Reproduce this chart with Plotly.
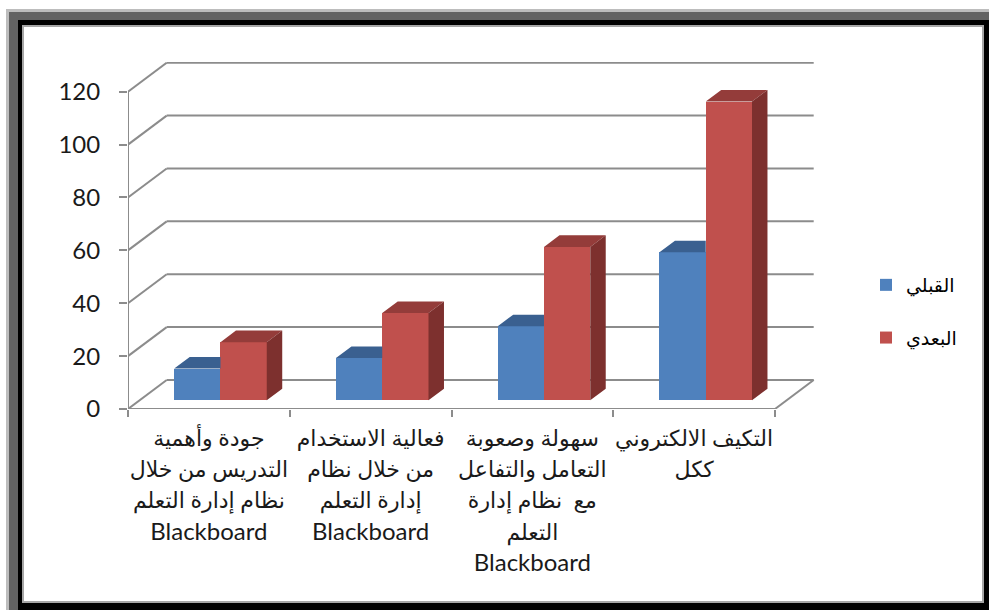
import plotly.graph_objects as go

# ---------------- data ----------------
categories = [
    "جودة وأهمية<br>التدريس من خلال<br>نظام إدارة التعلم<br>Blackboard",
    "فعالية الاستخدام<br>من خلال نظام<br>إدارة التعلم<br>Blackboard",
    "سهولة وصعوبة<br>التعامل والتفاعل<br>مع  نظام إدارة<br>التعلم<br>Blackboard",
    "التكيف الالكتروني<br>ككل",
]
before_vals = [12, 16, 28, 56]
after_vals = [22, 33, 58, 113]
series_names = ["القبلي", "البعدي"]
y_ticks = [0, 20, 40, 60, 80, 100, 120]

# ---------------- layout geometry (styling) ----------------
W, H = 989, 610
ML, MR, MT, MB = 128, 172, 62, 201
PW, PH = W - ML - MR, H - MT - MB
PX_PER_CAT = 161.75
PX_PER_VAL = 2.644
XMAX = PW / PX_PER_CAT
YMAX = PH / PX_PER_VAL

# oblique depth vector (data units)
DX, DY = 38.7 / PX_PER_CAT, 29.0 / PX_PER_VAL
Z0, Z1 = 0.30, 0.70
BAR_W = 0.286

front_col = ["#4F81BD", "#C0504D"]
top_col = ["#3A6090", "#943C3A"]
side_col = ["#2F4D75", "#7D302E"]
grid_col = "#8C8C8C"


def style_label(label, arabic_size=22):
    """Arabic lines rendered slightly smaller than the Latin ones."""
    out = []
    for line in label.split("<br>"):
        if line.isascii():
            out.append(line)
        else:
            out.append(f'<span style="font-size:{arabic_size}px">{line}</span>')
    return "<br>".join(out)


fig = go.Figure()

# ---------------- frame (paper shapes) ----------------
def px_x(p):
    return (p - ML) / PW

def px_y(p):
    return (H - MB - p) / PH

shapes = []
for (x0, y0, x1, y1, col) in [
    (6, 9, 1000, 620, "#BDBDBD"),
    (9, 12, 1000, 620, "#636363"),
    (18, 20, 989, 610, "#000000"),
    (22, 25, 984, 603, "#A6A6A6"),
    (24, 27, 982, 601, "#FFFFFF"),
]:
    shapes.append(dict(type="rect", xref="paper", yref="paper",
                       x0=px_x(x0), x1=px_x(x1), y0=px_y(y1), y1=px_y(y0),
                       fillcolor=col, line=dict(width=0), layer="below"))

n = len(categories)
# back wall gridlines and left wall diagonals
for t in y_ticks:
    shapes.append(dict(type="line", xref="x", yref="y", x0=DX, y0=t + DY, x1=n + DX, y1=t + DY,
                       line=dict(color=grid_col, width=2), layer="below"))
    shapes.append(dict(type="line", xref="x", yref="y", x0=0, y0=t, x1=DX, y1=t + DY,
                       line=dict(color=grid_col, width=2), layer="below"))
# floor front edge, right floor edge, y axis line
shapes.append(dict(type="line", xref="x", yref="y", x0=0, y0=0, x1=n, y1=0,
                   line=dict(color=grid_col, width=2), layer="below"))
shapes.append(dict(type="line", xref="x", yref="y", x0=n, y0=0, x1=n + DX, y1=DY,
                   line=dict(color=grid_col, width=2), layer="below"))
shapes.append(dict(type="line", xref="x", yref="y", x0=0, y0=0, x1=0, y1=y_ticks[-1],
                   line=dict(color=grid_col, width=2), layer="below"))

# ---------------- bars ----------------
fx, fy = Z0 * DX, Z0 * DY
bdx, bdy = (Z1 - Z0) * DX, (Z1 - Z0) * DY

for s, vals in enumerate([before_vals, after_vals]):
    lefts = [i + 0.5 + fx - BAR_W + s * BAR_W for i in range(n)]
    centers = [l + BAR_W / 2 for l in lefts]
    fig.add_trace(go.Bar(
        x=centers, y=vals, base=fy, width=BAR_W,
        marker=dict(color=front_col[s], line=dict(width=0)),
        name=series_names[s], legendgroup=f"g{s}", hoverinfo="skip",
    ))

# faces as scatter polygons (drawn over bars, arranged so nothing overlaps a front face)
for s, vals in enumerate([before_vals, after_vals]):
    lefts = [i + 0.5 + fx - BAR_W + s * BAR_W for i in range(n)]
    tx, ty, sx, sy = [], [], [], []
    for l, v in zip(lefts, vals):
        r = l + BAR_W
        yt = fy + v
        if s == 0:
            tx += [l, r, r, l + bdx, l, None]
            ty += [yt, yt, yt + bdy, yt + bdy, yt, None]
        else:
            tx += [l, r, r + bdx, l + bdx, l, None]
            ty += [yt, yt, yt + bdy, yt + bdy, yt, None]
            sx += [r, r + bdx, r + bdx, r, r, None]
            sy += [fy, fy + bdy, yt + bdy, yt, fy, None]
    fig.add_trace(go.Scatter(x=tx, y=ty, mode="lines", fill="toself", fillcolor=top_col[s],
                             line=dict(width=0), showlegend=False, hoverinfo="skip"))
    if sx:
        fig.add_trace(go.Scatter(x=sx, y=sy, mode="lines", fill="toself", fillcolor=side_col[s],
                                 line=dict(width=0), showlegend=False, hoverinfo="skip"))

fig.update_layout(
    width=W, height=H,
    margin=dict(l=ML, r=MR, t=MT, b=MB, pad=0),
    paper_bgcolor="white", plot_bgcolor="rgba(0,0,0,0)",
    barmode="overlay", bargap=0,
    shapes=shapes,
    showlegend=True,
    legend=dict(x=px_x(866), y=px_y(266), xanchor="left", yanchor="top",
                font=dict(family="Arial, DejaVu Sans", size=19, color="#000000"),
                tracegroupgap=25, traceorder="grouped", bgcolor="rgba(0,0,0,0)"),
    font=dict(family="Lato, DejaVu Sans", color="#1a1a1a"),
)

fig.update_xaxes(
    range=[0, XMAX], showgrid=False, zeroline=False, showline=False,
    tickmode="array", tickvals=[i + 0.5 for i in range(n)],
    ticktext=[style_label(c) for c in categories],
    ticks="", tickangle=0,
    tickfont=dict(family="Lato, DejaVu Sans", size=24, color="#1a1a1a"),
    ticklabelstandoff=12,
    minor=dict(tickmode="array", tickvals=list(range(n + 1)), ticks="outside",
               ticklen=7, tickwidth=2, tickcolor=grid_col),
    fixedrange=True,
)
fig.update_yaxes(
    range=[0, YMAX], showgrid=False, zeroline=False, showline=False,
    tickmode="array", tickvals=y_ticks, ticktext=[str(t) for t in y_ticks],
    ticks="outside", ticklen=8, tickwidth=2, tickcolor=grid_col,
    tickfont=dict(family="Lato, DejaVu Sans", size=24, color="#1a1a1a"),
    ticklabelstandoff=14,
    fixedrange=True,
)

fig.write_html(
    "out.html",
    config={"displayModeBar": False},
    post_script="document.body.style.margin='0';document.body.style.overflow='hidden';",
)
